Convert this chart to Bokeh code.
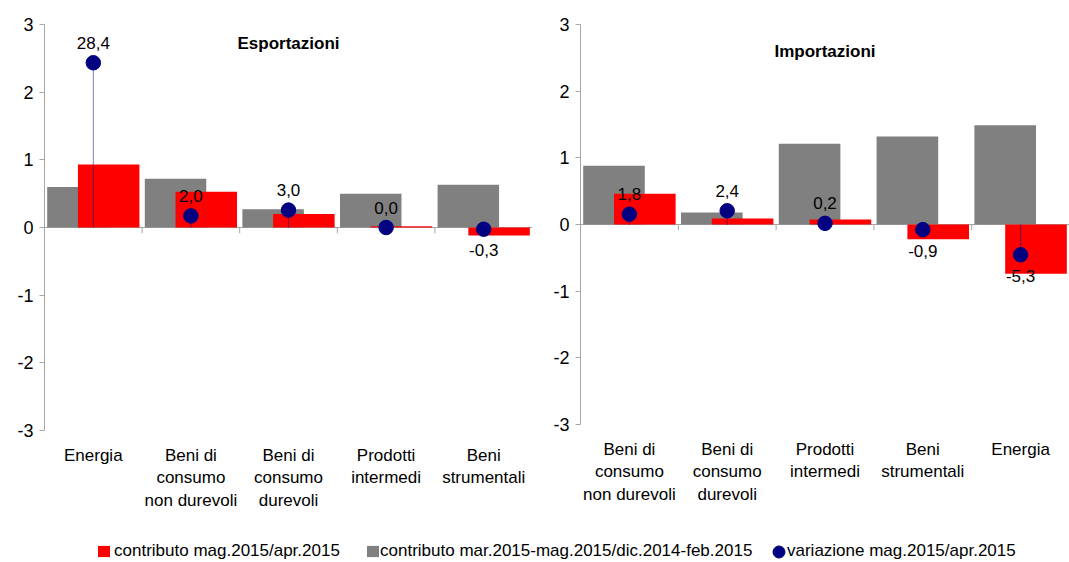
from bokeh.plotting import figure
from bokeh.models import (Range1d, FixedTicker, Span, Label, Legend, LegendItem,
                          ColumnDataSource)
from bokeh.layouts import column, row
from bokeh.embed import file_html
from bokeh.resources import INLINE
from bokeh.core.properties import value

FONT = "Liberation Sans"
FS = "17px"

# ---------------- data ----------------
exp_title = "Esportazioni"
exp_categories = ["Energia", "Beni di\nconsumo\nnon durevoli", "Beni di\nconsumo\ndurevoli",
                  "Prodotti\nintermedi", "Beni\nstrumentali"]
exp_contrib_month = [0.93, 0.53, 0.20, 0.02, -0.12]
exp_contrib_quarter = [0.60, 0.72, 0.27, 0.50, 0.63]
exp_variation = [28.4, 2.0, 3.0, 0.0, -0.3]

imp_title = "Importazioni"
imp_categories = ["Beni di\nconsumo\nnon durevoli", "Beni di\nconsumo\ndurevoli",
                  "Prodotti\nintermedi", "Beni\nstrumentali", "Energia"]
imp_contrib_month = [0.46, 0.09, 0.075, -0.22, -0.74]
imp_contrib_quarter = [0.88, 0.18, 1.21, 1.32, 1.49]
imp_variation = [1.8, 2.4, 0.2, -0.9, -5.3]

y_ticks = [-3, -2, -1, 0, 1, 2, 3]
variation_axis_limit = 35

legend_labels = ["contributo mag.2015/apr.2015",
                 "contributo mar.2015-mag.2015/dic.2014-feb.2015",
                 "variazione mag.2015/apr.2015"]

RED = "#FF0000"
GREY = "#808080"
NAVY = "#000080"
AXIS = "#A6A6A6"
BAR_W = 0.63
SHIFT = 0.1575


def make_panel(title, cats, month, quarter, var, width, height, left, top, bottom, title_y):
    n = len(cats)
    p = figure(width=width, height=height, x_range=Range1d(-0.5, n - 0.5),
               y_range=Range1d(min(y_ticks), max(y_ticks)),
               output_backend="svg", toolbar_location=None,
               min_border_left=left, min_border_right=0,
               min_border_top=top, min_border_bottom=bottom,
               outline_line_color=None, background_fill_color=None,
               border_fill_color=None)
    p.extra_y_ranges = {"var": Range1d(-variation_axis_limit, variation_axis_limit)}
    p.grid.visible = False

    idx = list(range(n))
    src = ColumnDataSource(dict(
        x=idx,
        gx=[i - SHIFT for i in idx],
        rx=[i + SHIFT for i in idx],
        month=month, quarter=quarter, var=var,
        zero=[0] * n,
        lab=[f"{v:.1f}".replace(".", ",") for v in var],
        off=[-20 if v >= 0 else 21 for v in var],
    ))

    zero_line = Span(location=0, dimension="width", line_color=AXIS, line_width=1,
                     level="underlay")
    p.add_layout(zero_line)

    bounds = [i - 0.5 for i in range(n + 1)]
    p.segment(x0=bounds, y0=[0] * len(bounds), x1=bounds, y1=[-0.085] * len(bounds),
              line_color=AXIS, line_width=1)

    p.vbar(x="gx", top="quarter", bottom=0, width=BAR_W, source=src,
           fill_color=GREY, line_color=None)
    p.vbar(x="rx", top="month", bottom=0, width=BAR_W, source=src,
           fill_color=RED, line_color=None)

    p.segment(x0="x", y0="zero", x1="x", y1="var", source=src, y_range_name="var",
              line_color=NAVY, line_width=1, line_dash="1 1")
    p.scatter(x="x", y="var", source=src, y_range_name="var", size=14.5,
              fill_color=NAVY, line_color=NAVY)
    p.text(x="x", y="var", text="lab", source=src, y_range_name="var",
           y_offset="off", text_align="center", text_baseline="middle",
           text_font=value(FONT), text_font_size=FS, text_color="#000000")

    p.add_layout(Label(x=(n - 1) / 2, y=title_y, text=title, text_align="center",
                       text_baseline="middle", text_font=FONT, text_font_size=FS,
                       text_font_style="bold", text_color="#000000"))

    yax = p.yaxis[0]
    yax.ticker = FixedTicker(ticks=y_ticks)
    yax.major_label_overrides = {t: str(t) for t in y_ticks}
    yax.axis_line_color = AXIS
    yax.major_tick_line_color = AXIS
    yax.major_tick_out = 5
    yax.major_tick_in = 0
    yax.minor_tick_line_color = None
    yax.major_label_standoff = 6
    yax.major_label_text_font = FONT
    yax.major_label_text_font_size = "18px"
    yax.major_label_text_color = "#000000"

    xax = p.xaxis[0]
    xax.ticker = FixedTicker(ticks=idx)
    xax.major_label_overrides = {i: c for i, c in zip(idx, cats)}
    xax.axis_line_color = None
    xax.major_tick_line_color = None
    xax.minor_tick_line_color = None
    xax.major_tick_out = 0
    xax.major_tick_in = 0
    xax.major_label_standoff = 15
    xax.major_label_text_font = FONT
    xax.major_label_text_font_size = FS
    xax.major_label_text_line_height = 1.2
    xax.major_label_text_color = "#000000"
    return p


p1 = make_panel(exp_title, exp_categories, exp_contrib_month, exp_contrib_quarter,
                exp_variation, width=532, height=536, left=44, top=24, bottom=106,
                title_y=2.72)
p2 = make_panel(imp_title, imp_categories, imp_contrib_month, imp_contrib_quarter,
                imp_variation, width=537, height=530, left=48, top=22, bottom=106,
                title_y=2.6)

# ---------------- legend strip ----------------
pl = figure(width=1069, height=26, x_range=Range1d(0, 1), y_range=Range1d(0, 1),
            output_backend="svg", toolbar_location=None,
            min_border_left=0, min_border_right=0, min_border_top=0, min_border_bottom=0,
            outline_line_color=None, background_fill_color=None, border_fill_color=None)
pl.axis.visible = False
pl.grid.visible = False
nan = float("nan")
r_red = pl.vbar(x=[nan], top=[nan], width=0.1, fill_color=RED, line_color=None)
r_grey = pl.vbar(x=[nan], top=[nan], width=0.1, fill_color=GREY, line_color=None)
r_dot = pl.ellipse(x=[nan], y=[nan], width=14, height=14, width_units="screen",
                   height_units="screen", fill_color=NAVY, line_color=NAVY)


def add_leg(renderer, label, loc, gw, gh, standoff):
    leg = Legend(items=[LegendItem(label=label, renderers=[renderer])],
                 location=loc, orientation="horizontal",
                 glyph_width=gw, glyph_height=gh, label_standoff=standoff,
                 label_height=20, padding=0, margin=0, spacing=0,
                 border_line_color=None, background_fill_alpha=0,
                 label_text_font=FONT, label_text_font_size=FS,
                 label_text_color="#000000", label_text_baseline="middle")
    pl.add_layout(leg)


add_leg(r_red, legend_labels[0], (96, 1), 15, 14, 3)
add_leg(r_grey, legend_labels[1], (365, 1), 15, 14, 0)
add_leg(r_dot, legend_labels[2], (771, 1), 15, 15, 1)

layout = column(row(p1, p2), pl)
open("out.html", "w").write(file_html(layout, INLINE))
